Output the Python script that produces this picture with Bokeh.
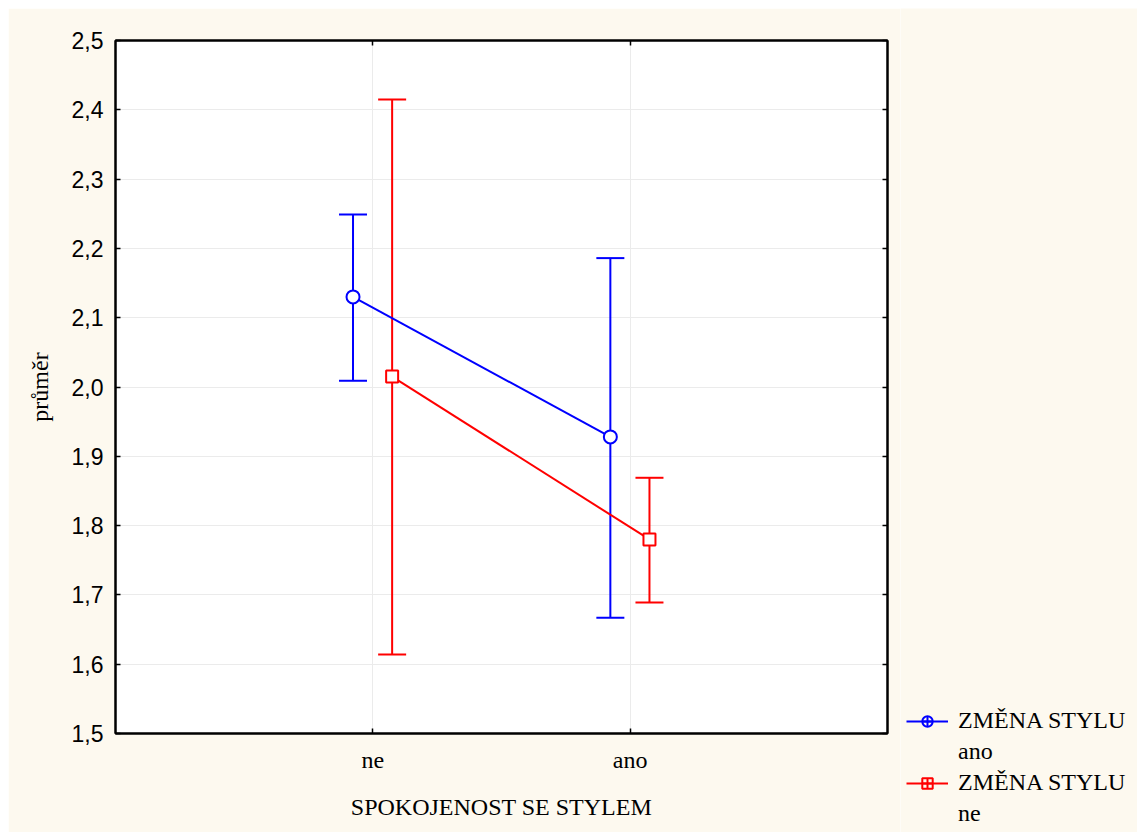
from bokeh.plotting import figure
from bokeh.layouts import row
from bokeh.models import (ColumnDataSource, FactorRange, Range1d, Whisker, TeeHead,
                          FixedTicker, LinearAxis, Legend, LegendItem, CategoricalAxis)
from bokeh.transform import dodge
from bokeh.embed import file_html
from bokeh.resources import INLINE

categories = ["ne", "ano"]
series_title = "ZMĚNA STYLU"
series_levels = ["ano", "ne"]
blue_mean = [2.130, 1.928]
blue_lower = [2.009, 1.667]
blue_upper = [2.249, 2.186]
red_mean = [2.015, 1.780]
red_lower = [1.614, 1.689]
red_upper = [2.415, 1.869]
y_ticks = [1.5, 1.6, 1.7, 1.8, 1.9, 2.0, 2.1, 2.2, 2.3, 2.4, 2.5]
y_tick_labels = ["1,5", "1,6", "1,7", "1,8", "1,9", "2,0", "2,1", "2,2", "2,3", "2,4", "2,5"]

BG = "#fdf9ef"
SERIF = "Liberation Serif"
SANS = "Liberation Sans"

p = figure(width=892, height=824, margin=(8, 0, 0, 8),
           x_range=FactorRange(factors=categories, range_padding=0.5, range_padding_units="absolute"),
           y_range=Range1d(1.5, 2.5),
           output_backend="svg", toolbar_location=None,
           min_border_left=107, min_border_right=13, min_border_top=32, min_border_bottom=99)
p.frame_align = False
p.border_fill_color = BG
p.background_fill_color = "white"
p.outline_line_color = "black"
p.outline_line_width = 2

p.yaxis.ticker = FixedTicker(ticks=y_ticks)
p.yaxis.major_label_overrides = dict(zip(y_ticks, y_tick_labels))
p.yaxis.major_label_text_font = SANS
p.yaxis.major_label_text_font_size = "23px"
p.yaxis.major_label_text_color = "black"
p.yaxis.axis_label = "průměr"
p.yaxis.axis_label_text_font = SERIF
p.yaxis.axis_label_text_font_style = "normal"
p.yaxis.axis_label_text_font_size = "24px"
p.yaxis.axis_label_text_color = "black"
p.yaxis.axis_label_standoff = 16
p.yaxis.major_label_standoff = 12

p.xaxis.axis_label = "SPOKOJENOST SE STYLEM"
p.xaxis.axis_label_text_font = SERIF
p.xaxis.axis_label_text_font_style = "normal"
p.xaxis.axis_label_text_font_size = "24px"
p.xaxis.axis_label_text_color = "black"
p.xaxis.axis_label_standoff = 18
p.xaxis.major_label_text_font = SERIF
p.xaxis.major_label_text_font_size = "24px"
p.xaxis.major_label_text_color = "black"
p.xaxis.major_label_standoff = 13

for ax in [p.xaxis[0], p.yaxis[0]]:
    ax.axis_line_color = "black"
    ax.axis_line_width = 2
    ax.major_tick_in = 5
    ax.major_tick_out = 0
    ax.major_tick_line_color = "black"
    ax.major_tick_line_width = 1.5
    ax.minor_tick_line_color = None

ra = LinearAxis(ticker=FixedTicker(ticks=y_ticks), major_label_text_color=None,
                major_tick_in=5, major_tick_out=0, minor_tick_line_color=None,
                major_tick_line_width=1.5,
                axis_line_color="black", axis_line_width=2, major_label_standoff=0)
p.add_layout(ra, "right")
ta = CategoricalAxis(major_label_text_color=None, major_tick_in=5, major_tick_out=0,
                     major_tick_line_width=1.5,
                     axis_line_color="black", axis_line_width=2, major_label_standoff=0)
p.add_layout(ta, "above")

p.xgrid.grid_line_color = "#ebebeb"
p.ygrid.grid_line_color = "#ebebeb"
p.ygrid.ticker = FixedTicker(ticks=y_ticks)

colors = ["#0000ff", "#ff0000"]
offsets = [-0.077, 0.075]
means = [blue_mean, red_mean]
lowers = [blue_lower, red_lower]
uppers = [blue_upper, red_upper]
markers = ["circle", "square"]
msizes = [13, 12]

for i in range(2):
    src = ColumnDataSource(dict(cat=categories, mean=means[i], lower=lowers[i], upper=uppers[i]))
    xs = dodge("cat", offsets[i], range=p.x_range)
    w = Whisker(source=src, base=xs, lower="lower", upper="upper", dimension="height",
                line_color=colors[i], line_width=2,
                upper_head=TeeHead(size=28, line_color=colors[i], line_width=2),
                lower_head=TeeHead(size=28, line_color=colors[i], line_width=2))
    p.add_layout(w)
    p.line(x=xs, y="mean", source=src, line_color=colors[i], line_width=2)
    p.scatter(x=xs, y="mean", source=src, marker=markers[i], size=msizes[i],
              line_color=colors[i], line_width=2, fill_color="white")

# legend panel (separate figure so the legend may sit below the plot frame level)
lf = figure(width=237, height=824, margin=(8, 0, 0, 0),
            x_range=Range1d(0, 1), y_range=Range1d(0, 1),
            x_axis_location=None, y_axis_location=None,
            output_backend="svg", toolbar_location=None,
            min_border=0)
lf.frame_align = False
lf.border_fill_color = BG
lf.background_fill_color = BG
lf.outline_line_color = None
lf.grid.visible = False

nan = float("nan")
items = []
for i in range(2):
    dummy = ColumnDataSource(dict(x=[nan], y=[nan]))
    ln = lf.line(x="x", y="y", source=dummy, line_color=colors[i], line_width=2)
    vl = lf.scatter(x="x", y="y", source=dummy, marker="cross", size=26,
                    line_color=colors[i], line_width=2)
    sc = lf.scatter(x="x", y="y", source=dummy, marker=markers[i], size=msizes[i] - 2,
                    line_color=colors[i], line_width=2, fill_alpha=0)
    items.append(LegendItem(label=series_title, renderers=[ln, vl, sc]))
    items.append(LegendItem(label=series_levels[i], renderers=[]))

legend = Legend(items=items, location=(6, 5), orientation="vertical",
                label_text_font=SERIF, label_text_font_size="24px",
                label_text_color="black",
                glyph_width=42, glyph_height=26, label_height=26, spacing=4,
                background_fill_alpha=0, border_line_color=None,
                label_standoff=10, padding=0, margin=0)
lf.add_layout(legend, "center")

layout = row(p, lf)
open("out.html", "w").write(file_html(layout, INLINE))
